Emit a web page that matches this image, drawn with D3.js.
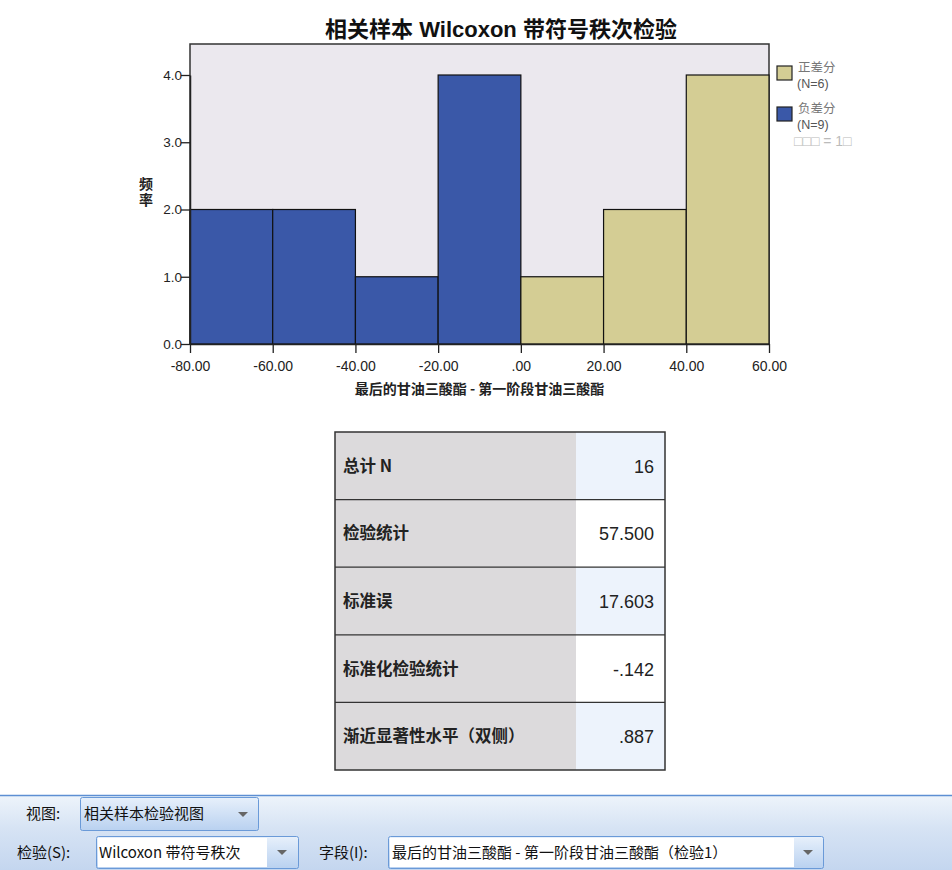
<!DOCTYPE html>
<html><head><meta charset="utf-8">
<script src="https://cdn.jsdelivr.net/npm/d3@7"></script>
<style>
body{margin:0;background:#fff;font-family:"Liberation Sans","Noto Sans CJK SC",sans-serif;}
svg{display:block}
</style></head><body>
<svg id="c" width="952" height="870"></svg>
<script>
// ---- data ----
const binStarts = [-80, -60, -40, -20, 0, 20, 40];
const binWidth = 20;
const negCounts = [2, 2, 1, 4, null, null, null];
const posCounts = [null, null, null, null, 1, 2, 4];
const xTicks = [-80, -60, -40, -20, 0, 20, 40, 60];
const yTicks = [0, 1, 2, 3, 4];
const legendNames = ["正差分", "负差分"];
const legendNs = ["(N=6)", "(N=9)"];
const tableLabels = ["总计 N", "检验统计", "标准误", "标准化检验统计", "渐近显著性水平（双侧）"];
const tableValues = ["16", "57.500", "17.603", "-.142", ".887"];

const svg = d3.select("#c");
const cjk = '"Noto Sans CJK SC","Liberation Sans",sans-serif';
const lat = '"Liberation Sans","Noto Sans CJK SC",sans-serif';
const BLUE = "#3a58a8", TAN = "#d4cd94";

const L = 190, R = 769, T = 44, B = 344;
const x = d3.scaleLinear().domain([-80, 60]).range([L, R]);
const y = d3.scaleLinear().domain([0, 4]).range([B, 75]);

// title
svg.append("text").attr("x", 501).attr("y", 37).attr("text-anchor", "middle")
  .attr("font-family", lat).attr("font-weight", "bold").attr("font-size", 22).attr("fill", "#111")
  .text("相关样本 Wilcoxon 带符号秩次检验");

// plot bg
svg.append("rect").attr("x", L).attr("y", T).attr("width", R - L).attr("height", B - T)
  .attr("fill", "#ebe8ee").attr("stroke", "#333").attr("stroke-width", 1.5);

// bars
const bars = binStarts.map((s, i) => ({s, v: negCounts[i] != null ? negCounts[i] : posCounts[i], neg: negCounts[i] != null}));
svg.append("g").selectAll("rect").data(bars).join("rect")
  .attr("x", d => x(d.s)).attr("width", d => x(d.s + binWidth) - x(d.s))
  .attr("y", d => y(d.v)).attr("height", d => y(0) - y(d.v))
  .attr("fill", d => d.neg ? BLUE : TAN).attr("stroke", "#111").attr("stroke-width", 1.2);

// axes
const fmtX = v => v === 0 ? ".00" : d3.format(".2f")(v).replace("\u2212", "-");
const gx = svg.append("g").attr("transform", `translate(0,${B})`)
  .call(d3.axisBottom(x).tickValues(xTicks).tickFormat(fmtX).tickSize(9).tickSizeOuter(0));
const gy = svg.append("g").attr("transform", `translate(${L},0)`)
  .call(d3.axisLeft(y).tickValues(yTicks).tickFormat(d3.format(".1f")).tickSize(9).tickSizeOuter(0));
[gx, gy].forEach(g => {
  g.select(".domain").attr("stroke", "#222").attr("stroke-width", 1.5);
  g.selectAll(".tick line").attr("stroke", "#222").attr("stroke-width", 1.3);
  g.selectAll("text").attr("font-family", lat).attr("fill", "#222");
});
gx.selectAll("text").attr("font-size", 14).attr("dy", "0.9em").attr("y", 14);
gy.selectAll("text").attr("font-size", 13.5).attr("x", -8);

// axis titles
svg.append("text").attr("x", x(-10)).attr("y", 394).attr("text-anchor", "middle")
  .attr("font-family", cjk).attr("font-size", 14).attr("font-weight", "bold").attr("fill", "#222")
  .text("最后的甘油三酸酯 - 第一阶段甘油三酸酯");
svg.append("text").attr("x", 146).attr("y", 177)
  .style("writing-mode", "vertical-rl").style("text-orientation", "upright")
  .attr("letter-spacing", 2)
  .attr("font-family", cjk).attr("font-size", 14).attr("font-weight", "bold").attr("fill", "#222")
  .text("频率");

// legend
const leg = svg.append("g");
[TAN, BLUE].forEach((c, i) => {
  const yy = 66 + i * 41;
  leg.append("rect").attr("x", 777).attr("y", yy).attr("width", 15).attr("height", 14)
    .attr("fill", c).attr("stroke", "#222").attr("stroke-width", 1.2);
  leg.append("text").attr("x", 798).attr("y", yy + 6).attr("font-family", cjk).attr("font-size", 12.5).attr("fill", "#777").text(legendNames[i]);
  leg.append("text").attr("x", 797).attr("y", yy + 21.5).attr("font-family", lat).attr("font-size", 12.5).attr("fill", "#555").text(legendNs[i]);
});
leg.append("text").attr("x", 794).attr("y", 146).attr("font-family", lat).attr("font-size", 14).attr("fill", "#bbb").text("\u25A1\u25A1\u25A1 = 1\u25A1");

// table
const tX = 335, tR = 665, tSplit = 576, tT = 432, rowH = 67.6;
const tg = svg.append("g");
tableLabels.forEach((lab, i) => {
  const yy = tT + i * rowH;
  tg.append("rect").attr("x", tX).attr("y", yy).attr("width", tSplit - tX).attr("height", rowH).attr("fill", "#dcdadc");
  tg.append("rect").attr("x", tSplit).attr("y", yy).attr("width", tR - tSplit).attr("height", rowH).attr("fill", i % 2 === 0 ? "#edf3fc" : "#ffffff");
  tg.append("text").attr("x", 343).attr("y", yy + rowH / 2 + 6).attr("font-family", cjk).attr("font-weight", "bold").attr("font-size", 16.5).attr("fill", "#222").text(lab);
  tg.append("text").attr("x", 654).attr("y", yy + rowH / 2 + 7).attr("text-anchor", "end").attr("font-family", lat).attr("font-size", 18).attr("fill", "#222").text(tableValues[i]);
  if (i > 0) tg.append("line").attr("x1", tX).attr("x2", tR).attr("y1", yy).attr("y2", yy).attr("stroke", "#333").attr("stroke-width", 1.2);
});
tg.append("rect").attr("x", tX).attr("y", tT).attr("width", tR - tX).attr("height", rowH * 5).attr("fill", "none").attr("stroke", "#333").attr("stroke-width", 1.5);

// toolbar
const defs = svg.append("defs");
const gr = defs.append("linearGradient").attr("id", "tb").attr("x1", 0).attr("x2", 0).attr("y1", 0).attr("y2", 1);
gr.append("stop").attr("offset", "0").attr("stop-color", "#eef4fb");
gr.append("stop").attr("offset", "0.45").attr("stop-color", "#d6e3f4");
gr.append("stop").attr("offset", "1").attr("stop-color", "#c4d6ef");
const gb = defs.append("linearGradient").attr("id", "bb").attr("x1", 0).attr("x2", 0).attr("y1", 0).attr("y2", 1);
gb.append("stop").attr("offset", "0").attr("stop-color", "#e7f0fb");
gb.append("stop").attr("offset", "1").attr("stop-color", "#b9d1f0");
svg.append("rect").attr("x", 0).attr("y", 795).attr("width", 952).attr("height", 75).attr("fill", "url(#tb)");
svg.append("line").attr("x1", 0).attr("x2", 952).attr("y1", 795.5).attr("y2", 795.5).attr("stroke", "#5d8fd3").attr("stroke-width", 1.5);

const tbText = (tx, ty, s) => svg.append("text").attr("x", tx).attr("y", ty).attr("font-family", cjk).attr("font-size", 15).attr("fill", "#111").text(s);
const arrow = (ax, ay) => svg.append("path").attr("d", `M${ax - 5},${ay - 2}L${ax + 5},${ay - 2}L${ax},${ay + 3}Z`).attr("fill", "#666");

tbText(26, 819, "视图:");
svg.append("rect").attr("x", 80.5).attr("y", 797.5).attr("width", 178).attr("height", 33).attr("rx", 2).attr("fill", "url(#bb)").attr("stroke", "#6a9ad8");
tbText(84, 819, "相关样本检验视图");
arrow(243, 814);

tbText(17, 858, "检验(S):");
svg.append("rect").attr("x", 96.5).attr("y", 836.5).attr("width", 202).attr("height", 32).attr("rx", 2).attr("fill", "url(#bb)").attr("stroke", "#6a9ad8");
svg.append("rect").attr("x", 98).attr("y", 838).attr("width", 169).attr("height", 29).attr("fill", "#fff");
tbText(99, 858, "Wilcoxon 带符号秩次");
arrow(282, 852);

tbText(319, 858, "字段(I):");
svg.append("rect").attr("x", 388.5).attr("y", 836.5).attr("width", 435).attr("height", 32).attr("rx", 2).attr("fill", "url(#bb)").attr("stroke", "#6a9ad8");
svg.append("rect").attr("x", 390).attr("y", 838).attr("width", 404).attr("height", 29).attr("fill", "#fff");
tbText(392, 858, "最后的甘油三酸酯 - 第一阶段甘油三酸酯（检验1）");
arrow(808, 852);
</script>
</body></html>
